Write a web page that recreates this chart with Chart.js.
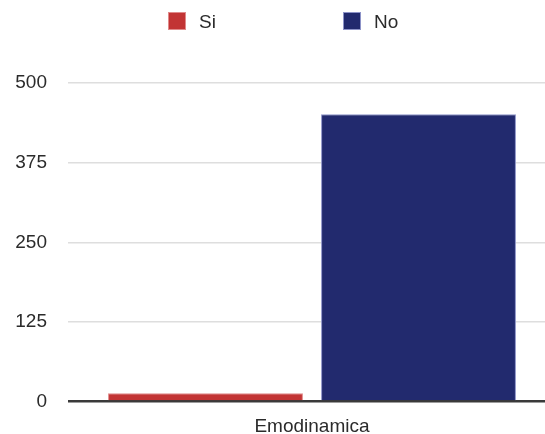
<!DOCTYPE html>
<html>
<head>
<meta charset="utf-8">
<script src="https://cdn.jsdelivr.net/npm/chart.js@4/dist/chart.umd.min.js"></script>
<style>
	html, body { margin: 0; padding: 0; background: #fff; overflow: hidden; }
	#wrap { position: relative; width: 556px; height: 434px; }
	#legend { position: absolute; top: 0; left: 0; width: 545px; height: 44px; font-family: "Liberation Sans", Arial, sans-serif; font-size: 19px; color: #2b2b2b; }
	.item { position: absolute; top: 12px; height: 19px; line-height: 19px; white-space: nowrap; }
	.item span.box { display: inline-block; width: 18px; height: 18px; vertical-align: top; margin-right: 13px; box-sizing: border-box; }
</style>
</head>
<body>
<div id="wrap">
	<canvas id="mycanvas" width="556" height="434"></canvas>
	<div id="legend"></div>
</div>
<script>
var categories = ['Emodinamica'];
var seriesNames = ['Si', 'No'];
var siValues = [13];
var noValues = [451];
var yTicks = [0, 125, 250, 375, 500];

var colors = ['#c23434', '#222a6e'];
var edges = ['#e08a8a', '#8d93c8'];
var legendLeft = [168, 343];

var chartdata = {
	labels: categories,
	datasets: [
		{
			label: seriesNames[0],
			backgroundColor: colors[0],
			borderColor: edges[0],
			borderWidth: 1,
			data: siValues
		},
		{
			label: seriesNames[1],
			backgroundColor: colors[1],
			borderColor: edges[1],
			borderWidth: 1,
			data: noValues
		}
	]
};

var font = { family: '"Liberation Sans", Arial, sans-serif', size: 19 };

var ctx = document.getElementById('mycanvas');
var barGraph = new Chart(ctx, {
	type: 'bar',
	data: chartdata,
	options: {
		responsive: false,
		animation: false,
		barPercentage: 0.915,
		categoryPercentage: 0.873,
		layout: { padding: { top: 83, right: 0, bottom: 0, left: 0 } },
		plugins: {
			legend: { display: false },
			tooltip: { enabled: false }
		},
		scales: {
			x: {
				grid: { display: false },
				border: { display: false },
				ticks: { font: font, color: '#2b2b2b', padding: 6 },
				afterFit: function(scale) { scale.height = 32; }
			},
			y: {
				min: yTicks[0],
				max: yTicks[yTicks.length - 1],
				afterBuildTicks: function(scale) {
					scale.ticks = yTicks.map(function(v) { return { value: v }; });
				},
				border: { display: false },
				grid: {
					drawTicks: false,
					color: function(c) { return c.tick && c.tick.value === 0 ? '#3a3a3a' : '#dedede'; },
					lineWidth: function(c) { return c.tick && c.tick.value === 0 ? 2.5 : 1.5; }
				},
				ticks: { font: font, color: '#2b2b2b', padding: 21 },
				afterFit: function(scale) { scale.width = 68; }
			}
		}
	}
});

// legend built from the datasets
var legend = document.getElementById('legend');
chartdata.datasets.forEach(function(ds, i) {
	var item = document.createElement('div');
	item.className = 'item';
	item.style.left = legendLeft[i] + 'px';
	var box = document.createElement('span');
	box.className = 'box';
	box.style.background = ds.backgroundColor;
	box.style.border = '1px solid ' + ds.borderColor;
	item.appendChild(box);
	item.appendChild(document.createTextNode(ds.label));
	legend.appendChild(item);
});
</script>
</body>
</html>
